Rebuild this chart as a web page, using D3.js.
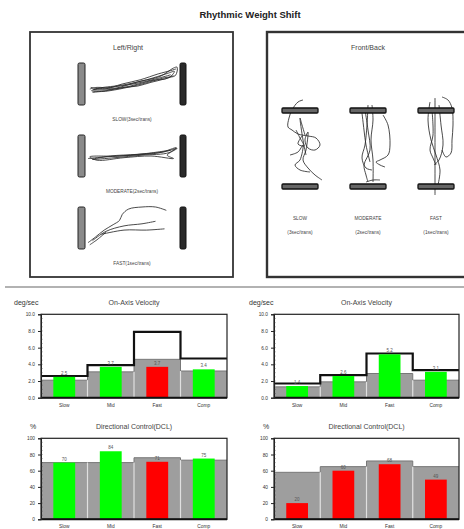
<!DOCTYPE html>
<html><head><meta charset="utf-8">
<script src="https://cdn.jsdelivr.net/npm/d3@7"></script>
<style>body{margin:0;background:#fff}svg{display:block;font-family:"Liberation Sans",Arial,sans-serif}</style>
</head><body><svg id="c" width="464" height="529"></svg>
<script>
// ---------- data ----------
const categories = ["Slow","Mid","Fast","Comp"];
const velTicks = [0,2,4,6,8,10];
const dclTicks = [0,20,40,60,80,100];

const leftVelValues = [2.5, 3.7, 3.7, 3.4];
const leftVelColors = ["#00ff00","#00ff00","#ff0000","#00ff00"];
const leftVelLow = [2.1, 3.1, 4.6, 3.2];
const leftVelHigh = [2.6, 3.9, 7.9, 4.7];

const rightVelValues = [1.4, 2.6, 5.2, 3.1];
const rightVelColors = ["#00ff00","#00ff00","#00ff00","#00ff00"];
const rightVelLow = [1.3, 1.9, 2.9, 2.1];
const rightVelHigh = [1.7, 2.7, 5.3, 3.3];

const leftDclValues = [70, 84, 71, 75];
const leftDclColors = ["#00ff00","#00ff00","#ff0000","#00ff00"];
const leftDclLow = [70, 70, 76, 73];

const rightDclValues = [20, 60, 68, 49];
const rightDclColors = ["#ff0000","#ff0000","#ff0000","#ff0000"];
const rightDclLow = [58, 65, 72, 65];

const lrLabels = ["SLOW(3sec/trans)","MODERATE(2sec/trans)","FAST(1sec/trans)"];
const fbLabels = ["SLOW","MODERATE","FAST"];
const fbSubLabels = ["(3sec/trans)","(2sec/trans)","(1sec/trans)"];

// Left/Right sway traces (x: 0 left plate .. 100 right plate, y: 0 top .. 100 bottom)
const lrSlow = [
  [[2,62],[10,58],[30,60],[55,45],[80,32],[95,12],[99,10],[97,30],[85,35],[60,50],[35,62],[15,68],[4,66],[12,60],[40,52],[65,40],[88,25],[96,20],[90,35],[70,42],[45,56],[20,64],[6,64],[25,58],[50,50],[75,38],[92,28]],
  [[5,70],[20,66],[40,58],[55,55],[70,46],[85,38],[95,30]],
  [[3,58],[18,62],[38,50],[58,40],[78,26],[92,18],[98,14]]
];
const lrModerate = [
  [[0,56],[20,52],[50,48],[80,42],[98,30],[90,42],[60,48],[30,54],[5,58],[25,50],[55,46],[85,40],[99,32],[88,48],[95,56],[70,50],[40,54],[10,60],[2,52],[35,50],[65,44],[92,36]]
];
const lrFast = [
  [[0,85],[8,72],[18,55],[28,42],[35,32],[38,18],[45,5],[60,0],[75,0],[87,8]],
  [[5,80],[20,58],[40,45],[60,40],[75,34]],
  [[15,65],[40,55],[65,55],[85,52]],
  [[2,90],[10,78],[20,60]]
];
// Front/Back sway traces (x: -20..20 around plate centre, y: 0 top plate .. 77 bottom plate)
const fbSlow = [
  [[3,-10],[-2,-8],[-8,0],[-11,8],[-12,17],[-8,20],[-2,24],[8,26],[16,28],[20,35],[15,40],[8,38],[5,30],[8,22],[6,40],[3,50],[8,58],[15,65],[22,70]],
  [[-10,45],[-2,42],[3,35],[0,50],[-5,55],[0,60],[10,62]],
  [[5,25],[2,15],[0,8],[3,30],[6,45]],
  [[-4,20],[0,28],[4,36],[-2,34],[2,26]]
];
const fbModerate = [
  [[-6,3],[-4,20],[-2,35],[2,52]],
  [[4,-5],[5,10],[3,30],[5,50],[5,72]],
  [[-3,0],[0,20],[2,40],[-4,55],[-2,65],[0,72]],
  [[15,5],[20,15],[22,35],[20,45],[12,50],[8,52],[12,55],[17,57]],
  [[-2,72],[5,70],[12,70]],
  [[0,-5],[-1,15],[-3,35],[-6,48],[-2,58],[4,60]]
];
const fbFast = [
  [[6,-13],[12,-10],[16,-2],[17,15],[16,30],[15,43],[10,47],[6,40]],
  [[-1,-12],[-1,10],[-1,40],[-1,70],[-1,85]],
  [[-6,-8],[-8,10],[-5,30],[0,45],[4,60],[2,75]],
  [[3,-5],[5,15],[7,35],[3,50],[-2,55]],
  [[-4,0],[-3,25],[-6,40],[-3,48],[0,55]]
];

// ---------- drawing ----------
const svg = d3.select("#c");

svg.append("text").attr("x",250).attr("y",18).attr("text-anchor","middle")
  .attr("font-size",9.5).attr("font-weight","bold").attr("fill","#222").text("Rhythmic Weight Shift");

// boxes
svg.append("rect").attr("x",30).attr("y",32).attr("width",203).attr("height",245)
  .attr("fill","none").attr("stroke","#333").attr("stroke-width",1.8);
svg.append("rect").attr("x",267).attr("y",32).attr("width",210).attr("height",245)
  .attr("fill","none").attr("stroke","#333").attr("stroke-width",2.4);
svg.append("line").attr("x1",5).attr("x2",464).attr("y1",287).attr("y2",287)
  .attr("stroke","#666").attr("stroke-width",1.2);

svg.append("text").attr("x",128).attr("y",50).attr("text-anchor","middle")
  .attr("font-size",7).attr("fill","#444").text("Left/Right");
svg.append("text").attr("x",368).attr("y",50).attr("text-anchor","middle")
  .attr("font-size",7).attr("fill","#444").text("Front/Back");

const traceLine = d3.line().curve(d3.curveCatmullRom.alpha(0.5));

// Left/Right rows
const lrRows = [lrSlow, lrModerate, lrFast];
const lrTops = [63, 135, 207];
lrRows.forEach((traces, i) => {
  const top = lrTops[i];
  const xs = d3.scaleLinear().domain([0,100]).range([88,178]);
  const ys = d3.scaleLinear().domain([0,100]).range([top, top+42]);
  svg.append("rect").attr("x",78).attr("y",top).attr("width",7).attr("height",42).attr("rx",1.5)
    .attr("fill","#8a8a8a").attr("stroke","#222").attr("stroke-width",1);
  svg.append("rect").attr("x",180).attr("y",top).attr("width",6).attr("height",42).attr("rx",1.5)
    .attr("fill","#2a2a2a").attr("stroke","#111").attr("stroke-width",1);
  traces.forEach(t => {
    svg.append("path").attr("d", traceLine.x(d=>xs(d[0])).y(d=>ys(d[1]))(t))
      .attr("fill","none").attr("stroke","#2a2a2a").attr("stroke-width",0.85);
  });
  svg.append("text").attr("x",132).attr("y",top+58).attr("text-anchor","middle")
    .attr("font-size",4.8).attr("fill","#444").text(lrLabels[i]);
});

// Front/Back columns
const fbCols = [fbSlow, fbModerate, fbFast];
const fbCenters = [300, 368, 436];
fbCols.forEach((traces, i) => {
  const cx = fbCenters[i];
  const xs = d3.scaleLinear().domain([-20,20]).range([cx-20, cx+20]);
  const ys = d3.scaleLinear().domain([0,77]).range([110, 187]);
  traces.forEach(t => {
    svg.append("path").attr("d", traceLine.x(d=>xs(d[0])).y(d=>ys(d[1]))(t))
      .attr("fill","none").attr("stroke","#2a2a2a").attr("stroke-width",0.85);
  });
  [108, 184].forEach(py => {
    svg.append("rect").attr("x",cx-18).attr("y",py).attr("width",36).attr("height",5).attr("rx",1)
      .attr("fill","#666").attr("stroke","#111").attr("stroke-width",1.3);
  });
  svg.append("text").attr("x",cx).attr("y",220).attr("text-anchor","middle")
    .attr("font-size",4.8).attr("fill","#444").text(fbLabels[i]);
  svg.append("text").attr("x",cx).attr("y",234).attr("text-anchor","middle")
    .attr("font-size",4.8).attr("fill","#444").text(fbSubLabels[i]);
});

// bar charts
function drawChart(o) {
  const g = svg.append("g");
  const x = d3.scaleBand().domain(categories).range([o.x0, o.x1]);
  const y = d3.scaleLinear().domain([0, o.max]).range([o.yb, o.yt]);
  const bw = x.bandwidth();
  // gray normal band
  g.selectAll("rect.low").data(categories).join("rect")
    .attr("x", d => x(d)).attr("width", bw)
    .attr("y", (d,i) => y(o.low[i])).attr("height", (d,i) => y(0) - y(o.low[i]))
    .attr("fill", "#9e9e9e");
  // outline of gray
  const stepPts = [];
  categories.forEach((c,i) => { stepPts.push([x(c), y(o.low[i])]); stepPts.push([x(c)+bw, y(o.low[i])]); });
  g.append("path").attr("d", d3.line()(stepPts)).attr("fill","none").attr("stroke","#777").attr("stroke-width",1);
  // white separators
  g.selectAll("line.sep").data(categories.slice(1)).join("line")
    .attr("x1", d => x(d)).attr("x2", d => x(d))
    .attr("y1", y(0)).attr("y2", (d,i) => y(Math.min(o.low[i], o.low[i+1])))
    .attr("stroke","#e0e0e0").attr("stroke-width",1.2);
  // upper thick line
  if (o.high) {
    const hp = [];
    categories.forEach((c,i) => { hp.push([x(c), y(o.high[i])]); hp.push([x(c)+bw, y(o.high[i])]); });
    g.append("path").attr("d", d3.line()(hp)).attr("fill","none").attr("stroke","#111").attr("stroke-width",2.2);
  }
  // bars
  const barW = bw * 0.47;
  g.selectAll("rect.bar").data(categories).join("rect")
    .attr("x", d => x(d) + (bw - barW)/2).attr("width", barW)
    .attr("y", (d,i) => y(o.values[i])).attr("height", (d,i) => y(0) - y(o.values[i]))
    .attr("fill", (d,i) => o.colors[i]);
  g.selectAll("text.val").data(categories).join("text")
    .attr("x", d => x(d) + bw/2).attr("y", (d,i) => y(o.values[i]) - 2)
    .attr("text-anchor","middle").attr("font-size",4.5).attr("fill","#555")
    .text((d,i) => o.fmt(o.values[i]));
  // frame
  g.append("rect").attr("x",o.x0).attr("y",o.yt).attr("width",o.x1-o.x0).attr("height",o.yb-o.yt)
    .attr("fill","none").attr("stroke","#222").attr("stroke-width",1.2);
  g.append("line").attr("x1",o.x0).attr("x2",o.x1).attr("y1",o.yb).attr("y2",o.yb)
    .attr("stroke","#111").attr("stroke-width",2);
  // y axis
  const ax = g.append("g").attr("transform",`translate(${o.x0},0)`)
    .call(d3.axisLeft(y).tickValues(o.ticks).tickSize(3).tickFormat(o.tickFmt));
  ax.select(".domain").attr("stroke","#222");
  ax.selectAll("text").attr("font-size",4.8).attr("fill","#333").attr("font-family","Liberation Sans, Arial, sans-serif");
  ax.selectAll("line").attr("stroke","#222");
  const minor = d3.range(0, o.max + 1e-9, o.max/20);
  g.selectAll("line.minor").data(minor).join("line")
    .attr("x1", o.x0).attr("x2", o.x0 + 1.5).attr("y1", d => y(d)).attr("y2", d => y(d))
    .attr("stroke","#333").attr("stroke-width",0.6);
  // x labels
  g.selectAll("text.cat").data(categories).join("text")
    .attr("x", d => x(d) + bw/2).attr("y", o.yb + 9).attr("text-anchor","middle")
    .attr("font-size",4.8).attr("fill","#333").text(d => d);
  // headers
  g.append("text").attr("x", o.unitX).attr("y", o.yt - 9).attr("font-size",7).attr("fill","#333").text(o.unit);
  g.append("text").attr("x", (o.x0+o.x1)/2).attr("y", o.yt - 9).attr("text-anchor","middle")
    .attr("font-size",7).attr("fill","#444").text(o.title);
}

const velFmt = d3.format(".1f");
drawChart({x0:41, x1:227, yt:314.3, yb:397.7, max:10, ticks:velTicks, tickFmt:velFmt, fmt:velFmt,
  values:leftVelValues, colors:leftVelColors, low:leftVelLow, high:leftVelHigh,
  unit:"deg/sec", unitX:14, title:"On-Axis Velocity"});
drawChart({x0:274, x1:459, yt:314.3, yb:397.7, max:10, ticks:velTicks, tickFmt:velFmt, fmt:velFmt,
  values:rightVelValues, colors:rightVelColors, low:rightVelLow, high:rightVelHigh,
  unit:"deg/sec", unitX:249, title:"On-Axis Velocity"});
drawChart({x0:41, x1:227, yt:438.3, yb:519.3, max:100, ticks:dclTicks, tickFmt:d3.format("d"), fmt:d3.format("d"),
  values:leftDclValues, colors:leftDclColors, low:leftDclLow, high:null,
  unit:"%", unitX:30, title:"Directional Control(DCL)"});
drawChart({x0:274, x1:459, yt:438.3, yb:519.3, max:100, ticks:dclTicks, tickFmt:d3.format("d"), fmt:d3.format("d"),
  values:rightDclValues, colors:rightDclColors, low:rightDclLow, high:null,
  unit:"%", unitX:263, title:"Directional Control(DCL)"});
</script></body></html>
